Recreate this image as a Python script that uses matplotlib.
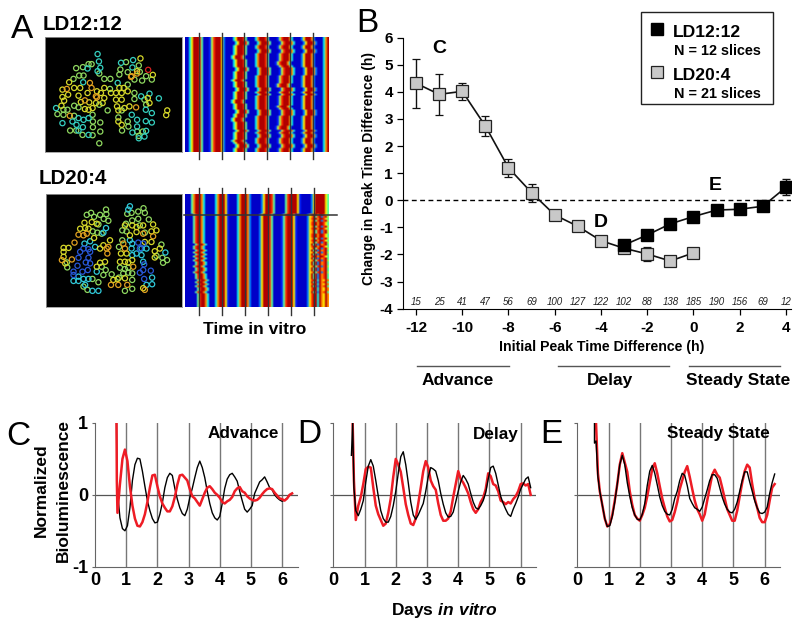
#!/usr/bin/python3

import numpy as np
import matplotlib
matplotlib.use('Agg')
import matplotlib.pyplot as plt

plt.rcParams['font.family'] = ['Liberation Sans', 'DejaVu Sans']
plt.rcParams['mathtext.fontset'] = 'custom'
plt.rcParams['mathtext.bfit'] = 'Liberation Sans:italic:bold'
plt.rcParams['mathtext.rm'] = 'Liberation Sans:bold'
plt.rcParams['axes.unicode_minus'] = False

W, H = 800, 627

# panel B
hours_20 = [-12, -11, -10, -9, -8, -7, -6, -5, -4, -3, -2, -1, 0]
change_20 = [4.32, 3.91, 4.02, 2.74, 1.2, 0.28, -0.54, -0.96, -1.49, -1.77, -1.98, -2.24, -1.94]
err_20 = [0.9, 0.75, 0.32, 0.37, 0.34, 0.33, 0.17, 0.1, 0.1, 0.1, 0.25, 0.1, 0.1]
hours_12 = [-3, -2, -1, 0, 1, 2, 3, 4]
change_12 = [-1.65, -1.28, -0.87, -0.6, -0.36, -0.33, -0.22, 0.48]
err_12 = [0.1, 0.1, 0.1, 0.1, 0.1, 0.1, 0.1, 0.29]
count_hours = list(range(-12, 5))
counts = [15, 25, 41, 47, 56, 69, 100, 127, 122, 102, 88, 138, 185, 190, 156, 69, 12]

# traces are read every 0.08 day from day 0.72, the lead_x/lead_y parts are the drop at the start
trace_days = 0.72 + 0.08 * np.arange(71)

c_black_lead_x = [.69, .70]
c_black_lead_y = [1, .45]
c_black = [.05, -.32, -.47, -.50, -.43, -.18, .2, .42, .51, .50, .33, .12, -.08, -.22, -.33, -.39, -.38, -.27,
           -.11, .10, .24, .30, .27, .09, -.06, -.18, -.26, -.29, -.2, -.04, .09, .24, .38, .47, .38, .24,
           .05, -.12, -.25, -.32, -.35, -.3, -.12, .09, .22, .28, .30, .25, .19, .05, -.08, -.2, -.24, -.2,
           -.15, .02, .1, .18, .21, .25, .18, .1, .07, 0, -.04, -.07, -.09, -.07, -.05, 0, .02]
c_red_lead_x = [.69, .70]
c_red_lead_y = [1, .2]
c_red = [-.25, .15, .5, .63, .47, .12, -.15, -.33, -.43, -.44, -.38, -.27, -.1, .1, .27, .28, .12, -.02,
         -.12, -.18, -.23, -.23, -.16, -.03, .14, .27, .28, .24, .2, .08, -.02, -.05, -.1, -.15, -.06, .03,
         .1, .12, .08, .03, 0, -.04, -.1, -.12, -.09, -.07, -.03, .05, .09, .11, .05, .03, -.02, -.05,
         -.07, -.08, -.07, -.04, .01, .05, .08, .09, .08, .03, -.01, -.05, -.06, -.08, -.05, 0, .02]

d_black_lead_x = [.58, .62, .66]
d_black_lead_y = [.55, 1, .1]
d_black = [-.22, -.29, -.2, -.08, .18, .4, .49, .4, .2, -.02, -.22, -.33, -.38, -.38, -.3, -.15, .05, .3,
           .53, .6, .42, .17, -.1, -.28, -.34, -.28, -.2, -.12, .05, .25, .38, .36, .33, .2, .02, -.13,
           -.25, -.31, -.3, -.24, -.1, .05, .18, .27, .22, .15, .02, -.1, -.18, -.2, -.15, -.08, .03, .22,
           .38, .4, .3, .14, -.02, -.12, -.2, -.27, -.3, -.2, -.12, -.03, .08, .15, .22, .25, .1]
d_red_lead_x = [.62, .66]
d_red_lead_y = [1, .2]
d_red = [-.35, -.15, -.03, .15, .36, .39, .38, .1, -.15, -.27, -.35, -.43, -.4, -.25, -.05, .25, .5, .42,
         .32, .1, -.13, -.28, -.4, -.42, -.33, -.12, .1, .33, .47, .38, .2, .12, .07, -.12, -.28, -.36,
         -.36, -.33, -.23, -.03, .15, .33, .22, .17, .1, .02, -.1, -.2, -.25, -.2, -.1, -.04, .08, .3,
         .26, .15, .13, .05, -.08, -.1, -.13, -.1, -.12, -.06, -.02, .05, .15, .16, .13, .15, 0]

e_black_lead_x = [.55, .55, .6, .66]
e_black_lead_y = [1, .72, .75, .25]
e_black = [.05, -.14, -.33, -.44, -.43, -.3, -.1, .15, .42, .55, .42, .17, -.02, -.18, -.28, -.34, -.35, -.27,
           -.12, .13, .33, .41, .3, .14, -.03, -.15, -.23, -.27, -.28, -.2, -.05, .05, .2, .3, .27, .13,
           -.05, -.12, -.18, -.2, -.23, -.17, -.05, .07, .2, .28, .28, .23, .1, -.03, -.13, -.2, -.24, -.25,
           -.2, -.1, .05, .2, .32, .32, .18, .05, -.08, -.18, -.25, -.26, -.24, -.17, .02, .17, .29]
e_red_lead_x = [.6, .66]
e_red_lead_y = [1, .3]
e_red = [.05, -.14, -.33, -.44, -.41, -.28, -.08, .15, .42, .58, .45, .32, .05, -.14, -.28, -.33, -.36, -.28,
         -.18, -.02, .17, .36, .44, .3, .12, -.05, -.18, -.3, -.37, -.35, -.24, -.1, .08, .2, .32, .4,
         .25, .08, -.08, -.2, -.27, -.36, -.27, -.08, .1, .28, .35, .28, .24, .1, -.05, -.2, -.28, -.36,
         -.36, -.22, -.02, .17, .33, .42, .38, .15, -.05, -.18, -.32, -.38, -.38, -.28, -.08, .1, .15]

# panel A slices, cell positions on the slice image, one list per colour
top_cyan = [(160, 54), (164, 76), (266, 72), (264, 94), (230, 80), (168, 95), (160, 105), (130, 97), (117, 138),
            (220, 140), (290, 180), (315, 172), (343, 186), (36, 215), (55, 260), (85, 255), (103, 245), (97, 265),
            (118, 250), (133, 245), (116, 272), (103, 282), (133, 295), (262, 235), (278, 250), (304, 220),
            (322, 230), (304, 254), (322, 258), (264, 288), (278, 270), (300, 300), (283, 305), (305, 283)]
top_green = [(142, 84), (133, 84), (96, 96), (116, 93), (105, 118), (118, 118), (88, 128), (165, 112), (180, 128),
             (198, 128), (197, 158), (228, 100), (225, 115), (250, 108), (245, 78), (283, 88), (286, 107), (305, 120),
             (293, 133), (322, 130), (270, 130), (250, 145), (270, 170), (270, 188), (300, 190), (305, 205), (90, 208),
             (103, 213), (70, 220), (58, 220), (40, 233), (58, 235), (90, 238), (145, 235), (165, 205), (190, 222),
             (146, 255), (146, 272), (168, 258), (168, 285), (78, 282), (96, 282), (115, 295), (145, 296), (165, 320),
             (250, 255), (252, 270), (233, 282), (278, 285), (295, 285), (283, 298), (222, 243), (232, 222)]
top_yellow = [(288, 67), (325, 116), (75, 138), (55, 160), (90, 155), (108, 155), (72, 175), (55, 182), (60, 193),
              (52, 208), (103, 178), (130, 170), (158, 165), (170, 170), (180, 155), (200, 170), (180, 185), (175, 200),
              (155, 200), (145, 215), (122, 218), (133, 220), (110, 197), (135, 198), (225, 155), (238, 155), (215, 170),
              (232, 170), (250, 165), (215, 190), (232, 190), (218, 210), (222, 222), (240, 215), (255, 210), (310, 185),
              (315, 200), (368, 222), (365, 236), (222, 255), (232, 265), (278, 105)]
top_orange = [(68, 158), (137, 140), (142, 155), (122, 192), (155, 180), (158, 183), (77, 238), (260, 122), (278, 112),
              (262, 120), (275, 213)]
top_red = [(311, 101)]

bot_cyan = [(183, 108), (175, 122), (135, 148), (118, 155), (150, 165), (262, 155), (260, 170), (262, 190), (255, 145),
            (362, 182), (290, 190), (305, 170), (295, 210), (85, 268), (100, 268), (115, 262), (130, 262), (100, 255),
            (155, 240), (142, 298), (160, 298), (255, 42), (250, 52), (120, 280), (322, 278), (305, 280), (322, 258),
            (290, 170), (275, 185)]
bot_green = [(183, 52), (184, 66), (138, 62), (125, 68), (147, 74), (165, 68), (176, 80), (190, 86), (160, 97), (247, 65),
             (260, 62), (280, 58), (296, 48), (300, 62), (280, 80), (262, 85), (285, 100), (312, 82), (243, 95), (300, 122),
             (232, 115), (245, 118), (232, 145), (222, 165), (143, 118), (157, 122), (170, 125), (350, 158), (353, 198),
             (367, 205), (355, 213), (335, 192), (66, 227), (65, 212), (170, 225), (182, 235), (175, 250), (240, 232),
             (250, 228), (225, 228), (235, 245), (250, 243), (262, 245), (200, 248), (222, 258), (262, 265), (142, 262),
             (160, 272), (127, 295), (115, 285), (262, 292), (240, 298)]
bot_yellow = [(105, 110), (120, 108), (118, 92), (140, 90), (155, 95), (262, 100), (275, 105), (295, 100), (325, 97),
              (240, 100), (275, 120), (320, 118), (335, 115), (255, 130), (130, 110), (147, 138), (70, 168), (55, 168),
              (55, 180), (55, 195), (60, 215), (175, 160), (165, 170), (180, 210), (165, 213), (155, 225), (195, 145),
              (228, 185), (245, 185), (240, 210), (250, 212), (225, 210), (262, 205), (330, 178), (330, 197), (345, 170),
              (300, 150), (320, 150), (218, 262), (205, 265), (240, 260), (295, 290)]
bot_orange = [(100, 128), (115, 130), (125, 125), (88, 152), (50, 205), (80, 203), (185, 170), (190, 165), (187, 185),
              (235, 155), (240, 170), (198, 280), (220, 280), (247, 280), (295, 125), (325, 133), (300, 295), (265, 225)]
bot_blue = [(115, 170), (130, 172), (135, 180), (105, 180), (130, 198), (122, 212), (135, 215), (128, 235), (112, 240),
            (97, 222), (85, 240), (85, 250), (280, 152), (295, 155), (285, 170), (298, 218), (295, 235), (285, 243),
            (318, 237), (298, 262), (100, 198)]

# panel A rasters, 0 is blue, 9 is red
top_heat = [
    '00 36 999 84 000 158 999 62 0000 36 999 84 0000 37 999 84 0000 15 8999 73 0000 26 999 72 0000 379',
    '00 36 999 84 000 158 999 62 00000 36 999 84 0000 37 999 84 0000 15 8999 73 0000 26 999 72 000 379',
    '00 36 999 84 000 158 999 62 000 36 999 84 00000 37 999 84 0000 15 8999 73 0000 26 999 72 0000 379',
    '00 36 999 84 000 158 999 62 0000 36 999 84 00000 37 999 84 0000 15 8999 73 0000 26 999 72 000 379',
    '00 36 999 84 000 158 999 62 0000 36 999 84 0000 37 999 84 000 15 8999 73 00000 26 999 72 0000 379',
]
top_rows = [0, 0, 1, 1, 0, 0, 3, 3, 0, 2, 2, 0, 4, 4, 0, 1, 1, 3, 3, 0, 0, 2, 0, 4, 4, 1, 1, 0, 3, 0, 0, 2, 2, 0, 4,
            0, 1, 1, 3, 0, 2, 2, 0, 0, 4, 4, 1, 0, 3, 3, 0, 2, 0, 1, 1, 0, 0]
bot_heat = [
    '000 47 999 73 00000 37 999 61 0000 37 999 72 00000 26 999 84 00000 48 9999 61 00000 26 9999964',
    '0000 48 99 73 00000 37 999 61 0000 37 999 72 0000 26 999 84 0000 14 8999 61 00000 26 899799864',
    '0000 48 99 73 00000 37 999 61 0000 37 999 72 0000 26 999 84 0000 14 8999 61 00000 26 794892895',
    '00000 48 99 73 0000 37 999 61 0000 37 999 72 0000 26 999 84 0000 14 8999 61 00000 26 949297894',
    '000000 48 99 73 000 37 999 61 0000 37 999 72 0000 26 999 84 0000 14 8999 61 00000 26 899397697',
]
bot_rows = [0, 0, 0, 0, 0, 0, 0, 0, 0, 0, 1, 2, 1, 2, 1, 1, 2, 1, 2, 2, 1, 1, 2, 1, 2, 3, 1, 2, 3, 2, 3, 1, 3, 2, 3, 3,
            2, 3, 3, 2, 3, 3, 3, 4, 3, 4, 3, 4, 4, 3, 4, 4, 4, 4, 4, 4, 4]


def ax_px(x0, y0, x1, y1, **kw):
    return fig.add_axes([x0 / W, 1 - y1 / H, (x1 - x0) / W, (y1 - y0) / H], **kw)


def raster(rows, order):
    cells = [[int(c) for c in r.replace(' ', '').ljust(72, '0')[:72]] for r in rows]
    return np.array([cells[i] for i in order]) / 9.0


def slice_panel(box, groups):
    ax = ax_px(*box)
    ax.set_facecolor('black')
    ax.set_xticks([])
    ax.set_yticks([])
    for s in ax.spines.values():
        s.set_color('#999999')
        s.set_linewidth(0.6)
    for pts, col in groups:
        ax.scatter([p[0] for p in pts], [p[1] for p in pts], s=14, facecolors='none',
                   edgecolors=col, linewidths=0.9)
    ax.set_xlim(2, 413)
    ax.set_ylim(346, 4)
    return ax


def heat_panel(box, img):
    ax = ax_px(*box)
    # limits a bit outside 0..1 so the ends stay clear blue and red, not the navy and maroon of jet
    ax.imshow(img, cmap='jet', vmin=-0.07, vmax=1.05, aspect='auto', interpolation='bilinear')
    ax.axis('off')
    return ax


def trace_panel(box, black, red, red_on_top, ylabels):
    ax = ax_px(*box)
    ax.set_xlim(0, 6.5)
    ax.set_ylim(-1, 1)
    for d in range(1, 7):
        ax.axvline(d, color='#777777', lw=1, zorder=1)
    ax.axhline(0, color='#555555', lw=0.9, zorder=1)
    ax.plot(list(black[0]) + list(trace_days), list(black[1]) + black[2], color='black', lw=1.0, zorder=3)
    ax.plot(list(red[0]) + list(trace_days), list(red[1]) + red[2], color='#ee1c25', lw=1.8,
            zorder=4 if red_on_top else 2)
    for side in ['top', 'right']:
        ax.spines[side].set_visible(False)
    for side in ['left', 'bottom']:
        ax.spines[side].set_color('#666666')
    ax.set_xticks(range(0, 7))
    ax.tick_params(axis='x', length=0, pad=4, labelsize=13)
    ax.set_yticks([-1, 0, 1])
    ax.tick_params(axis='y', length=2, color='#666666', pad=3, labelsize=13)
    if not ylabels:
        ax.set_yticklabels([])
    for t in ax.get_xticklabels() + ax.get_yticklabels():
        t.set_fontweight('bold')
    ax.patch.set_alpha(0)
    return ax


fig = plt.figure(figsize=(8, 6.27), dpi=100, facecolor='white')

# A
slice_panel((44.7, 37.3, 182.3, 152), [(top_green, '#8fd860'), (top_cyan, '#35d0c0'), (top_yellow, '#d6d82a'),
                                       (top_orange, '#e0a020'), (top_red, '#d82020')])
slice_panel((46, 193.7, 182.3, 306.7), [(bot_green, '#8fd860'), (bot_cyan, '#30c8d8'), (bot_yellow, '#d6d82a'),
                                        (bot_orange, '#e0a020'), (bot_blue, '#2858d8')])
heat_panel((185.3, 37.3, 329.3, 152), raster(top_heat, top_rows))
heat_panel((185.3, 193.7, 329.3, 306.7), raster(bot_heat, bot_rows))

# B
ax = ax_px(403.3, 37.7, 791, 308.7)
ax.set_xlim(-12.55, 4.22)
ax.set_ylim(-4, 6)
ax.axhline(0, color='black', lw=1, ls=(0, (3.5, 2.5)), zorder=1)
ax.errorbar(hours_20, change_20, yerr=err_20, color='#111111', lw=1.2, capsize=2.8, elinewidth=1, capthick=1,
            marker='s', ms=8.2, mfc='#c8c8c8', mec='#222222', mew=0.9, zorder=3)
ax.errorbar(hours_12, change_12, yerr=err_12, color='#111111', lw=1.2, capsize=2.8, elinewidth=1, capthick=1,
            marker='s', ms=8.2, mfc='black', mec='black', zorder=4)
for h, n in zip(count_hours, counts):
    ax.text(h, -3.95, str(n), fontsize=7, style='italic', ha='center', va='bottom', color='#222222')
for side in ['top', 'right']:
    ax.spines[side].set_visible(False)
ax.set_xticks(range(-12, 5, 2))
ax.set_yticks(range(-4, 7))
ax.tick_params(axis='both', length=4.5, width=0.9, labelsize=11, pad=3)
ax.tick_params(axis='x', pad=4)
for t in ax.get_xticklabels() + ax.get_yticklabels():
    t.set_fontweight('bold')
ax.patch.set_alpha(0)

# C, D, E
trace_panel((95, 423, 297.7, 566.7), (c_black_lead_x, c_black_lead_y, c_black),
            (c_red_lead_x, c_red_lead_y, c_red), True, True)
trace_panel((333.3, 423, 536.3, 566.7), (d_black_lead_x, d_black_lead_y, d_black),
            (d_red_lead_x, d_red_lead_y, d_red), False, False)
trace_panel((577.3, 423, 780.3, 566.7), (e_black_lead_x, e_black_lead_y, e_black),
            (e_red_lead_x, e_red_lead_y, e_red), False, False)

# labels and furniture in picture pixels
over = fig.add_axes([0, 0, 1, 1], zorder=10)
over.set_xlim(0, W)
over.set_ylim(H, 0)
over.axis('off')

for x in [198.7, 221.7, 244.3, 267.3, 290.3, 313]:
    over.plot([x, x], [32.7, 159.3], color='#333333', lw=1)
for x in [199, 222.3, 245, 268, 290.7, 313.7]:
    over.plot([x, x], [188, 314.7], color='#333333', lw=1)
over.plot([184, 337], [215, 215], color='#333333', lw=1.1)

for lbl, x, y in [('A', 11, 38), ('B', 356, 32), ('C', 6, 445), ('D', 297, 443), ('E', 540, 443)]:
    over.text(x, y, lbl, fontsize=24, ha='left', va='baseline')

bold = dict(fontweight='bold', va='baseline')
over.text(43, 30, 'LD12:12', fontsize=14.8, **bold)
over.text(39, 184, 'LD20:4', fontsize=14.8, **bold)
over.text(203, 334, 'Time in vitro', fontsize=12.5, **bold)

over.text(439, 52.7, 'C', fontsize=14, ha='center', **bold)
over.text(601, 226.7, 'D', fontsize=14, ha='center', **bold)
over.text(715.7, 190, 'E', fontsize=14, ha='center', **bold)

over.text(369, 168.5, 'Change in Peak Time Difference (h)', fontsize=10, fontweight='bold', rotation=90,
          ha='center', va='center')
over.text(601.7, 351, 'Initial Peak Time Difference (h)', fontsize=10.2, ha='center', **bold)

for x0, x1 in [(417, 509), (558, 669), (689, 780)]:
    over.plot([x0, x1], [366, 366], color='#555555', lw=1)
over.text(458, 385, 'Advance', fontsize=12.5, ha='center', **bold)
over.text(610, 385, 'Delay', fontsize=12.5, ha='center', **bold)
over.text(738, 385, 'Steady State', fontsize=12.5, ha='center', **bold)

over.add_patch(plt.Rectangle((640.7, 11.7), 132.3, 92.6, fc='white', ec='#222222', lw=1))
over.plot([656.7], [28.7], marker='s', ms=8.2, mfc='black', mec='black')
over.plot([656.7], [72.3], marker='s', ms=8.2, mfc='#c8c8c8', mec='#222222', mew=0.9)
over.text(672.7, 37.3, 'LD12:12', fontsize=12.6, **bold)
over.text(673.7, 55, 'N = 12 slices', fontsize=10.4, **bold)
over.text(672.7, 80, 'LD20:4', fontsize=12.6, **bold)
over.text(673.7, 98, 'N = 21 slices', fontsize=10.4, **bold)

over.text(41.7, 490, 'Normalized', fontsize=12.5, fontweight='bold', rotation=90, ha='center', va='center')
over.text(63.3, 490, 'Bioluminescence', fontsize=12.5, fontweight='bold', rotation=90, ha='center', va='center')
over.text(444, 615, r'Days $\mathbfit{in\ vitro}$', fontsize=12.5, ha='center', **bold)
over.text(207.7, 438, 'Advance', fontsize=12.3, **bold)
over.text(473, 439, 'Delay', fontsize=12.3, **bold)
over.text(666.7, 438, 'Steady State', fontsize=12.3, **bold)

fig.savefig('out.png', dpi=100)
